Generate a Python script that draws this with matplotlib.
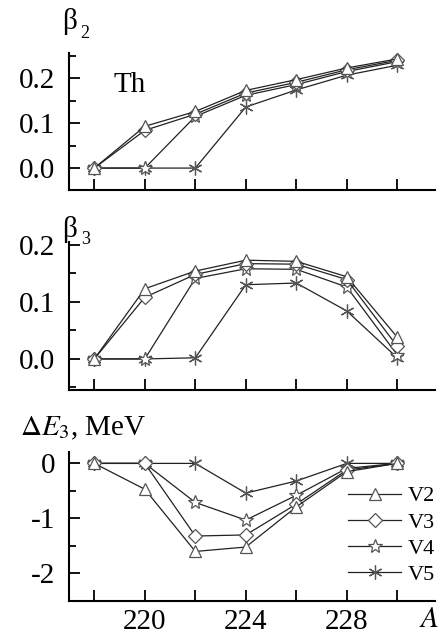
import numpy as np
import matplotlib.pyplot as plt
from matplotlib.ticker import MultipleLocator

plt.rcParams['font.family'] = ['Liberation Serif', 'DejaVu Serif']
plt.rcParams['mathtext.fontset'] = 'stix'

A = [218, 220, 222, 224, 226, 228, 230]
labels = ['V2', 'V3', 'V4', 'V5']

beta2_v2 = [0.0, 0.093, 0.126, 0.173, 0.197, 0.223, 0.243]
beta2_v3 = [0.0, 0.084, 0.120, 0.167, 0.191, 0.219, 0.240]
beta2_v4 = [0.0, 0.0, 0.115, 0.162, 0.186, 0.215, 0.237]
beta2_v5 = [0.0, 0.0, 0.0, 0.136, 0.174, 0.207, 0.229]

beta3_v2 = [0.0, 0.123, 0.154, 0.173, 0.171, 0.144, 0.038]
beta3_v3 = [0.0, 0.108, 0.148, 0.167, 0.166, 0.139, 0.022]
beta3_v4 = [0.0, 0.0, 0.141, 0.158, 0.157, 0.126, 0.007]
beta3_v5 = [0.0, 0.0, 0.002, 0.130, 0.133, 0.084, 0.002]

de3_v2 = [0.0, -0.47, -1.60, -1.52, -0.79, -0.15, 0.0]
de3_v3 = [0.0, 0.0, -1.32, -1.30, -0.74, -0.12, 0.0]
de3_v4 = [0.0, 0.0, -0.71, -1.03, -0.58, -0.09, 0.0]
de3_v5 = [0.0, 0.0, 0.0, -0.54, -0.32, 0.0, 0.0]

styles = {
    'V2': dict(marker='^', markersize=9),
    'V3': dict(marker='D', markersize=7),
    'V4': dict(marker='*', markersize=10),
    'V5': dict(marker=(6, 2, 0), markersize=10),
}

fig = plt.figure(figsize=(4.4, 6.4), dpi=100)
ax1 = fig.add_axes([0.157, 0.703, 0.832, 0.214])
ax2 = fig.add_axes([0.157, 0.391, 0.832, 0.231])
ax3 = fig.add_axes([0.157, 0.061, 0.832, 0.233])

panels = [
    (ax1, [beta2_v2, beta2_v3, beta2_v4, beta2_v5], (-0.049, 0.256), 0.1, 0.05),
    (ax2, [beta3_v2, beta3_v3, beta3_v4, beta3_v5], (-0.054, 0.205), 0.1, 0.05),
    (ax3, [de3_v2, de3_v3, de3_v4, de3_v5], (-2.5, 0.21), 1, 0.5),
]

for ax, series, ylim, major, minor in panels:
    for lab, ys in reversed(list(zip(labels, series))):
        ax.plot(A, ys, color='#222222', linewidth=0.9,
                markerfacecolor='white', markeredgecolor='#555555',
                markeredgewidth=0.9, label=lab, **styles[lab])
    ax.set_xlim(217, 231.5)
    ax.set_ylim(*ylim)
    ax.xaxis.set_major_locator(MultipleLocator(2))
    ax.yaxis.set_major_locator(MultipleLocator(major))
    ax.yaxis.set_minor_locator(MultipleLocator(minor))
    for s in ['top', 'right']:
        ax.spines[s].set_visible(False)
    for s in ['left', 'bottom']:
        ax.spines[s].set_linewidth(1.5)
    ax.tick_params(which='major', direction='in', length=8, width=1.3, labelsize=21)
    ax.tick_params(which='minor', direction='in', length=5, width=1.3)
    ax.tick_params(axis='y', which='major', pad=10)
    ax.tick_params(axis='x', which='major', pad=6)
    ax.tick_params(axis='x', which='minor', length=0)

ax1.yaxis.set_major_formatter(plt.FuncFormatter(lambda v, p: f'{v:.1f}'))
ax2.yaxis.set_major_formatter(plt.FuncFormatter(lambda v, p: f'{v:.1f}'))
ax3.yaxis.set_major_formatter(plt.FuncFormatter(lambda v, p: f'{v:.0f}'))
ax1.tick_params(axis='x', labelbottom=False)
ax2.tick_params(axis='x', labelbottom=False)
ax3.set_xticks(A)
ax3.set_xticklabels(['' if a not in (220, 224, 228) else str(a) for a in A])

ax1.text(0.12, 0.77, 'Th', transform=ax1.transAxes, fontsize=21, va='center')

# axis titles: upright beta with a small subscript
fig.text(0.141, 0.967, 'β', fontsize=21, va='center')
fig.text(0.183, 0.947, '2', fontsize=13, va='center')
fig.text(0.141, 0.641, 'β', fontsize=21, va='center')
fig.text(0.185, 0.625, '3', fontsize=13, va='center')
fig.text(0.045, 0.331, r'$\Delta E_3$, MeV', fontsize=21, va='center')
fig.text(0.975, 0.031, r'$A$', fontsize=21, va='center', ha='center')

handles, labs = ax3.get_legend_handles_labels()
ax3.legend(handles[::-1], labs[::-1], loc='center right',
           bbox_to_anchor=(1.0, 0.44), frameon=False, fontsize=16,
           handlelength=2.4, handletextpad=0.3, labelspacing=0.25,
           borderaxespad=0, borderpad=0)

fig.savefig('out.png', dpi=100)
